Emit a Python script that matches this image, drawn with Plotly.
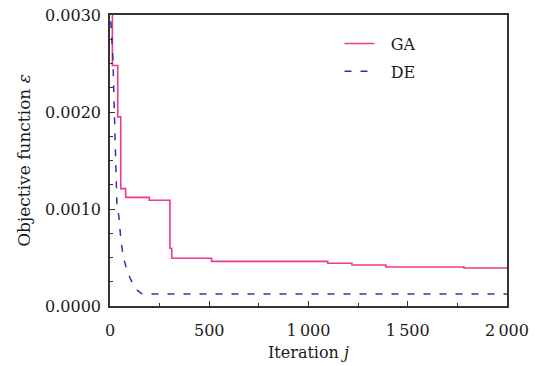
import plotly.graph_objects as go

# GA (step curve)
ga_iter = [0, 12, 39, 54, 79, 198, 302, 311, 512, 1097, 1219, 1390, 1783, 2000]
ga_val = [0.0032, 0.00248, 0.00195, 0.00121, 0.00112, 0.00109, 0.000595, 0.000492,
          0.00046, 0.00044, 0.000423, 0.000402, 0.000392, 0.000392]

# DE (smooth decay)
de_iter = [0, 10, 15, 20, 25, 28, 35, 45, 55, 67, 81, 101, 121, 141, 161, 200, 2000]
de_val = [0.0031, 0.00274, 0.00254, 0.00214, 0.00171, 0.00145, 0.00104, 0.00092, 0.00068,
          0.000505, 0.000402, 0.000289, 0.000206, 0.000155, 0.000126, 0.000124, 0.000124]

x_ticks = [0, 500, 1000, 1500, 2000]
x_ticktext = ["0", "500", "1\u2009000", "1\u2009500", "2\u2009000"]
y_ticks = [0.0, 0.001, 0.002, 0.003]
y_ticktext = ["0.0000", "0.0010", "0.0020", "0.0030"]

FONT = "DejaVu Serif"
AX = "#333333"
TXT = "#1a1a1a"

fig = go.Figure()
fig.add_trace(go.Scatter(x=ga_iter, y=ga_val, mode="lines", name="\u2002\u2009GA",
                         line=dict(color="#ec3a8e", width=1.6, shape="hv"),
                         legendgroup="a"))
fig.add_trace(go.Scatter(x=de_iter, y=de_val, mode="lines", name="\u2002\u2009DE",
                         line=dict(color="#34349c", width=1.5, dash="7px,9px"),
                         legendgroup="b"))

axis_common = dict(showline=True, linecolor=AX, linewidth=1.5, mirror=True,
                   ticks="inside", ticklen=5, tickwidth=1, tickcolor=AX,
                   showgrid=False, zeroline=False, automargin=False,
                   tickfont=dict(family=FONT, size=16, color=TXT))

fig.update_xaxes(range=[0, 2000], tickvals=x_ticks, ticktext=x_ticktext,
                 ticklabelstandoff=9,
                 minor=dict(ticks="inside", ticklen=3, tickwidth=1, tickcolor=AX, dtick=250, tick0=0),
                 title=dict(text="Iteration <i>j</i>", font=dict(family=FONT, size=16, color=TXT),
                            standoff=8),
                 **axis_common)
fig.update_yaxes(range=[0, 0.003], tickvals=y_ticks, ticktext=y_ticktext,
                 ticklabelstandoff=4,
                 minor=dict(ticks="inside", ticklen=3, tickwidth=1, tickcolor=AX, dtick=0.00025, tick0=0),
                 title=dict(text="Objective function <i>ε</i>", font=dict(family=FONT, size=17, color=TXT),
                            standoff=10),
                 **axis_common)

fig.update_layout(
    width=535, height=366,
    margin=dict(l=110, r=28, t=15, b=60),
    paper_bgcolor="white", plot_bgcolor="white",
    showlegend=True,
    legend=dict(x=0.578, y=0.96, xanchor="left", yanchor="top",
                font=dict(family=FONT, size=16, color=TXT),
                bgcolor="rgba(0,0,0,0)", tracegroupgap=4),
)

fig.write_html("out.html",
               config={"displayModeBar": False},
               post_script="document.body.style.margin='0';document.body.style.overflow='hidden';")
